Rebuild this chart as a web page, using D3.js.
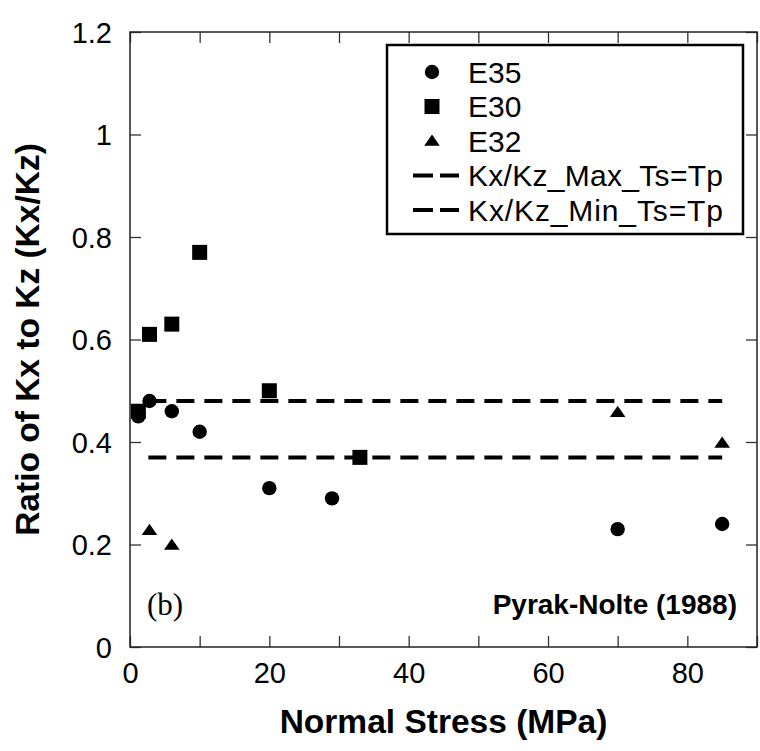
<!DOCTYPE html>
<html>
<head>
<meta charset="utf-8">
<script src="https://cdn.jsdelivr.net/npm/d3@7/dist/d3.min.js"></script>
<style>
  html, body { margin: 0; padding: 0; background: #fff; }
  svg { display: block; }
</style>
</head>
<body>
<svg id="chart" width="760" height="751"></svg>
<script>
// ---- data ----
const e35X = [1.2, 2.8, 6, 10, 20, 29, 70, 85];
const e35Y = [0.45, 0.48, 0.46, 0.42, 0.31, 0.29, 0.23, 0.24];
const e30X = [1.2, 2.8, 6, 10, 20, 33];
const e30Y = [0.46, 0.61, 0.63, 0.77, 0.50, 0.37];
const e32X = [2.8, 6, 70, 85];
const e32Y = [0.228, 0.199, 0.458, 0.398];
const refLineNames = ["Kx/Kz_Max_Ts=Tp", "Kx/Kz_Min_Ts=Tp"];
const refLineValues = [0.48, 0.37];
const refLineRange = [1.2, 85];
const seriesNames = ["E35", "E30", "E32"];
const xTickValues = [0, 20, 40, 60, 80];
const xMinorTicks = [0, 10, 20, 30, 40, 50, 60, 70, 80, 90];
const yTickValues = [0, 0.2, 0.4, 0.6, 0.8, 1.0, 1.2];

// ---- layout ----
const L = 130, R = 757, T = 32, B = 647;
const svg = d3.select("#chart");
const x = d3.scaleLinear().domain([0, 90]).range([L, R]);
const y = d3.scaleLinear().domain([0, 1.2]).range([B, T]);
const font = "'Liberation Sans', Arial, Helvetica, sans-serif";

// ticks (inward) on all sides
const tickLen = 11;
const axisColor = "#333";
const gAx = svg.append("g");
function styleAxis(g) {
  g.select(".domain").remove();
  g.selectAll(".tick line").attr("stroke", axisColor).attr("stroke-width", 1.3);
  g.selectAll("text").remove();
}
gAx.append("g").attr("transform", `translate(0,${B})`)
  .call(d3.axisBottom(x).tickValues(xMinorTicks).tickSizeInner(-tickLen).tickSizeOuter(0)).call(styleAxis);
gAx.append("g").attr("transform", `translate(0,${T})`)
  .call(d3.axisTop(x).tickValues(xMinorTicks).tickSizeInner(-tickLen).tickSizeOuter(0)).call(styleAxis);
gAx.append("g").attr("transform", `translate(${L},0)`)
  .call(d3.axisLeft(y).tickValues(yTickValues).tickSizeInner(-tickLen).tickSizeOuter(0)).call(styleAxis);
gAx.append("g").attr("transform", `translate(${R},0)`)
  .call(d3.axisRight(y).tickValues(yTickValues).tickSizeInner(-tickLen).tickSizeOuter(0)).call(styleAxis);

// tick labels
const xl = svg.append("g").attr("transform", `translate(0,${B})`)
  .call(d3.axisBottom(x).tickValues(xTickValues).tickSize(0).tickPadding(36).tickFormat(d3.format("d")));
xl.select(".domain").remove();
xl.selectAll("text").attr("font-family", font).attr("font-size", 29).attr("fill", "#000").attr("dy", 0);

const yl = svg.append("g").attr("transform", `translate(${L},0)`)
  .call(d3.axisLeft(y).tickValues(yTickValues).tickSize(0).tickPadding(18).tickFormat(d => d3.format("~g")(d)));
yl.select(".domain").remove();
yl.selectAll("text").attr("font-family", font).attr("font-size", 29).attr("fill", "#000").attr("dy", "0.36em");

// frame
svg.append("rect").attr("x", L).attr("y", T).attr("width", R - L).attr("height", B - T)
  .attr("fill", "none").attr("stroke", "#222").attr("stroke-width", 1.5);

// reference dashed lines
svg.append("g").selectAll("line").data(refLineValues).join("line")
  .attr("x1", x(refLineRange[0])).attr("x2", x(refLineRange[1]))
  .attr("y1", d => y(d)).attr("y2", d => y(d))
  .attr("stroke", "#000").attr("stroke-width", 4)
  .attr("stroke-dasharray", "18,10").attr("stroke-dashoffset", 18);

// markers
const sym = {
  circle: (g, cx, cy) => g.append("circle").attr("cx", cx).attr("cy", cy).attr("r", 7.2),
  square: (g, cx, cy) => g.append("rect").attr("x", cx - 7.5).attr("y", cy - 7.5).attr("width", 15).attr("height", 15),
  triangle: (g, cx, cy) => g.append("path").attr("d", `M${cx},${cy - 6.5}L${cx + 7.8},${cy + 4.8}L${cx - 7.8},${cy + 4.8}Z`)
};
const gPts = svg.append("g").attr("fill", "#000");
e35X.forEach((v, i) => sym.circle(gPts, x(v), y(e35Y[i])));
e30X.forEach((v, i) => sym.square(gPts, x(v), y(e30Y[i])));
e32X.forEach((v, i) => sym.triangle(gPts, x(v), y(e32Y[i])));

// legend
const lg = svg.append("g");
lg.append("rect").attr("x", 387).attr("y", 45).attr("width", 356).attr("height", 189)
  .attr("fill", "#fff").attr("stroke", "#000").attr("stroke-width", 2.5);
const rowY = [72, 106.5, 141, 175.5, 210];
const shapes = ["circle", "square", "triangle"];
seriesNames.forEach((n, i) => {
  sym[shapes[i]](lg, 432, rowY[i]).attr("fill", "#000");
  lg.append("text").attr("x", 468).attr("y", rowY[i]).attr("dy", "0.36em")
    .attr("font-family", font).attr("font-size", 30).text(n);
});
refLineNames.forEach((n, i) => {
  const yy = rowY[3 + i];
  lg.append("line").attr("x1", 413).attr("x2", 459).attr("y1", yy).attr("y2", yy)
    .attr("stroke", "#000").attr("stroke-width", 4).attr("stroke-dasharray", "20,7");
  lg.append("text").attr("x", 468).attr("y", yy).attr("dy", "0.36em")
    .attr("font-family", font).attr("font-size", 30).attr("textLength", 255).text(n);
});

// annotations
svg.append("text").attr("x", 737).attr("y", 614).attr("text-anchor", "end")
  .attr("font-family", font).attr("font-size", 28).attr("font-weight", "bold").text("Pyrak-Nolte (1988)");
svg.append("text").attr("x", 147).attr("y", 615)
  .attr("font-family", "'Liberation Serif', 'Times New Roman', serif").attr("font-size", 31).text("(b)");

// axis titles
svg.append("text").attr("x", (L + R) / 2).attr("y", 733).attr("text-anchor", "middle")
  .attr("font-family", font).attr("font-size", 33.5).attr("font-weight", "bold").text("Normal Stress (MPa)");
svg.append("text").attr("transform", `translate(39,${(T + B) / 2}) rotate(-90)`).attr("text-anchor", "middle")
  .attr("font-family", font).attr("font-size", 33.5).attr("font-weight", "bold").text("Ratio of Kx to Kz (Kx/Kz)");
</script>
</body>
</html>
